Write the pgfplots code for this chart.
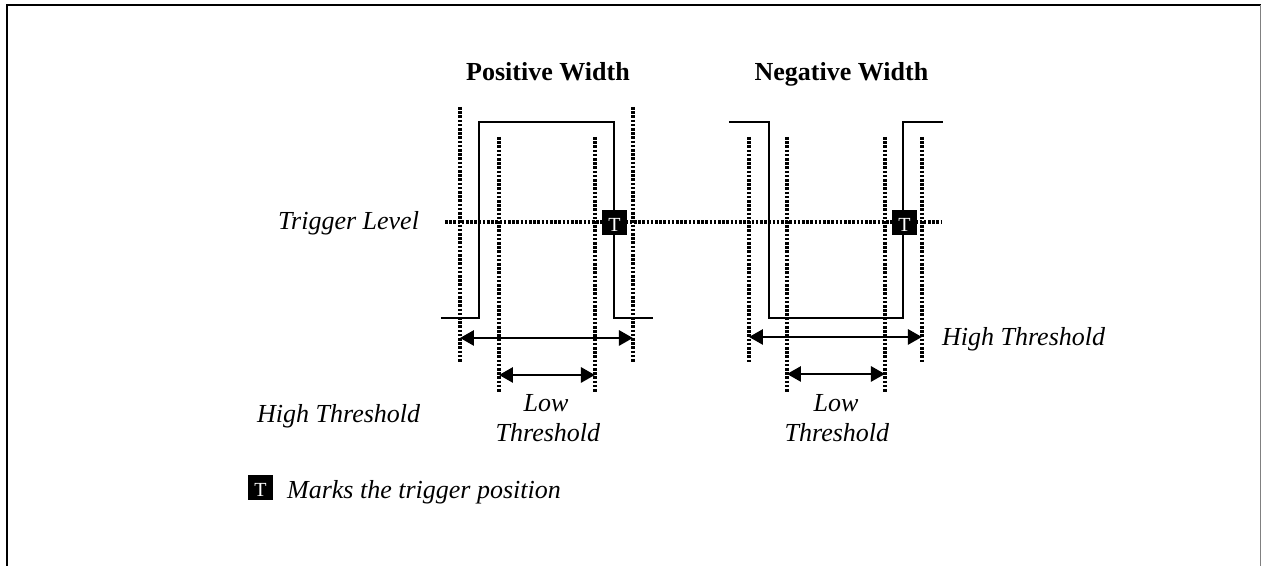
\documentclass[border=0pt]{standalone}
\usepackage{pgfplots}
\pgfplotsset{compat=1.18}
\usepackage{fontspec}
\setmainfont{Liberation Serif}
\usetikzlibrary{arrows.meta}
\newcommand{\tf}{\fontsize{26}{30}\selectfont\itshape}
\begin{document}
\begin{tikzpicture}
\begin{axis}[
  scale only axis, width=1262pt, height=565pt,
  xmin=0, xmax=1262, ymin=0, ymax=565, y dir=reverse,
  hide axis, clip=false,
  dotl/.style={line width=3.4pt, dash pattern=on 2.6pt off 1.6pt, draw=black},
  sig/.style={line width=1.5pt, draw=black, mark=none},
  arr/.style={line width=2.8pt, draw=black, {Triangle[length=14pt,width=15pt]}-{Triangle[length=14pt,width=15pt]}},
]
\path (axis cs:0,0) rectangle (axis cs:1262,565);
% frame
\draw[line width=2.2pt] (axis cs:7,566) -- (axis cs:7,5) -- (axis cs:1261,5);
\draw[line width=0.9pt, gray] (axis cs:1261,5) -- (axis cs:1261,566);
% signals
\addplot[sig] coordinates {(441,318) (479,318) (479,122) (614,122) (614,318) (653,318)};
\addplot[sig] coordinates {(729,122) (769,122) (769,318) (903,318) (903,122) (943,122)};
% dotted verticals
\addplot[dotl] coordinates {(460,107) (460,363)};
\addplot[dotl] coordinates {(633,107) (633,363)};
\addplot[dotl] coordinates {(499,137) (499,393)};
\addplot[dotl] coordinates {(595,137) (595,393)};
\addplot[dotl] coordinates {(749,137) (749,363)};
\addplot[dotl] coordinates {(922,137) (922,363)};
\addplot[dotl] coordinates {(787,137) (787,393)};
\addplot[dotl] coordinates {(885,137) (885,393)};
% trigger level
\addplot[dotl] coordinates {(445,222) (942,222)};
% arrows
\addplot[arr] coordinates {(460,338) (633,338)};
\addplot[arr] coordinates {(499,375) (595,375)};
\addplot[arr] coordinates {(749,337) (922,337)};
\addplot[arr] coordinates {(787,374) (885,374)};
% trigger markers
\addplot[only marks, mark=square*, mark size=12pt,
  mark options={fill=black, draw=black},
  nodes near coords={T}, nodes near coords align=center,
  every node near coord/.style={anchor=center, text=white, inner sep=0pt, yshift=-2.5pt, font=\fontsize{20}{22}\selectfont}]
  coordinates {(614.5,222) (904.5,222) (260.5,487)};
% texts
\node[inner sep=0pt, anchor=base, font=\fontsize{26}{30}\selectfont\bfseries] at (axis cs:548,81) {Positive Width};
\node[inner sep=0pt, anchor=base, font=\fontsize{26}{30}\selectfont\bfseries] at (axis cs:841.5,81) {Negative Width};
\node[inner sep=0pt, anchor=base west, font=\tf] at (axis cs:278,230) {Trigger Level};
\node[inner sep=0pt, anchor=base west, font=\tf] at (axis cs:942,346) {High Threshold};
\node[inner sep=0pt, anchor=base west, font=\tf] at (axis cs:257,423) {High Threshold};
\node[inner sep=0pt, anchor=base, font=\tf] at (axis cs:546,412) {Low};
\node[inner sep=0pt, anchor=base, font=\tf] at (axis cs:548,442) {Threshold};
\node[inner sep=0pt, anchor=base, font=\tf] at (axis cs:836,412) {Low};
\node[inner sep=0pt, anchor=base, font=\tf] at (axis cs:837,442) {Threshold};
\node[inner sep=0pt, anchor=base west, font=\tf] at (axis cs:287,499) {Marks the trigger position};
\end{axis}
\end{tikzpicture}
\end{document}
